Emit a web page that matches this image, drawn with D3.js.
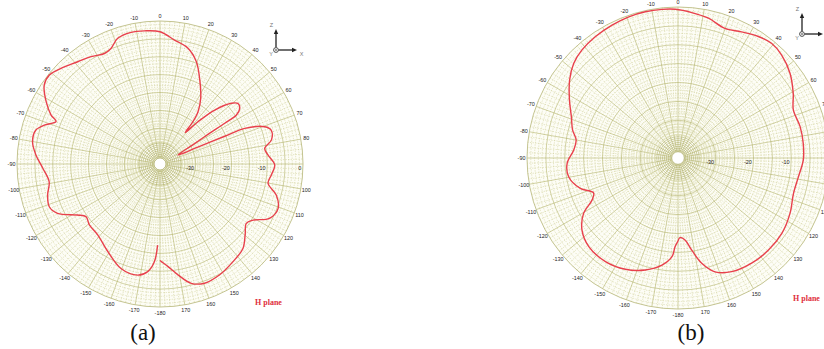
<!DOCTYPE html>
<html>
<head>
<meta charset="utf-8">
<script src="https://cdn.jsdelivr.net/npm/d3@7"></script>
<style>
  html, body { margin: 0; padding: 0; background: #fff; }
  svg { display: block; }
</style>
</head>
<body>
<svg id="chart" width="824" height="349"></svg>
<script>
// H-plane radiation patterns: angle in degrees (0 = +Z, clockwise), normalised gain in dB
const anglesA = [-178.3, -176.7, -173.5, -168.6, -159.5, -149.2, -138.7, -130.8, -125.4, -121.8,
  -115.7, -111.1, -105.4, -99.1, -92.1, -85.8, -80.1, -74.7, -71.4, -67.8,
  -65.8, -61.3, -55.7, -51.2, -46.0, -38.8, -32.7, -26.7, -23.0, -18.6,
  -12.4, -6.7, 0, 6.7, 13.6, 19.5, 24.8, 31.8, 36.0, 37.9,
  38.8, 41.9, 45.4, 49.6, 52.1, 55.1, 57.3, 57.8, 58.3, 59.7,
  63.4, 65.9, 66.8, 67.2, 70.4, 73.0, 77.8, 81.5, 85.2, 90.5,
  95.6, 100.1, 105.0, 110.6, 116.4, 121.1, 124.5, 129.8, 135.5, 143.2,
  151.7, 159.5, 165.3, 170.8, 175.5, 179.2, 180];
const gainA = [-17.3, -12.6, -9.7, -8.3, -8.8, -11.5, -13.6, -13.9, -14.6, -12.9,
  -8.2, -6.8, -7.4, -8.6, -7.2, -5.2, -3.8, -4.0, -5.9, -8.6,
  -6.6, -3.7, -0.8, -0.3, -1.5, -3.3, -4.3, -5.4, -4.9, -2.9,
  -2.3, -2.5, -3.0, -5.1, -6.7, -9.6, -13.6, -18.4, -21.9, -25.0,
  -28.7, -24.1, -18.5, -13.8, -12.4, -12.8, -14.6, -18.6, -24.0, -29.5,
  -34.4, -28.4, -20.3, -14.3, -8.9, -7.5, -8.1, -10.4, -9.7, -7.9,
  -8.7, -9.3, -6.3, -4.7, -5.8, -9.6, -10.7, -9.0, -6.9, -5.9,
  -4.8, -4.4, -5.5, -8.6, -11.2, -12.7, -13.0];

const anglesB = [-180, -178.1, -176.5, -171.5, -163.7, -154.7, -145.0, -134.8, -126.9, -120.4,
  -116.0, -112.4, -107.3, -99.7, -92.8, -85.6, -80.0, -75.1, -68.8, -61.9,
  -54.2, -47.8, -41.6, -34.3, -26.4, -19.2, -12.6, -6.1, -1.0, 5.4,
  12.3, 19.9, 26.7, 33.5, 39.2, 45.2, 52.9, 60.7, 67.4, 75.6,
  83.3, 90.9, 98.8, 107.0, 116.3, 126.0, 135.5, 145.0, 154.7, 162.0,
  167.3, 171.6, 175.1, 178.6, 180];
const gainB = [-18.0, -16.5, -13.8, -11.3, -9.1, -7.4, -6.5, -6.7, -8.2, -11.0,
  -14.7, -15.8, -12.9, -10.6, -10.6, -12.3, -12.6, -11.1, -9.7, -7.4,
  -4.6, -2.7, -1.7, -1.1, -0.7, -0.4, -0.3, -0.4, -0.6, -1.3,
  -2.1, -3.5, -2.6, -1.4, -0.8, -1.3, -2.8, -5.0, -6.9, -6.6,
  -6.6, -6.8, -7.7, -8.0, -6.9, -6.0, -5.8, -6.0, -6.7, -8.3,
  -11.4, -15.4, -18.2, -18.9, -18.0];

// Axis labels
const angleTicks = [0, 10, 20, 30, 40, 50, 60, 70, 80, 100, 110, 120, 130, 140, 150, 160, 170,
  -10, -20, -30, -40, -50, -60, -70, -80, -90, -100, -110, -120, -130, -140, -150, -160, -170, -180];
const ringTicks = [-30, -20, -10, 0];
const dbDomain = [-40, 0];

const svg = d3.select("#chart");
const gridMajor = "#b2b268", gridMinor = "#caca8e", gridCore = "#8f8f2e";
const traceColor = "#e8404c";
const labelFont = "Liberation Sans, Arial, sans-serif";

function drawPolar(cx, cy, R, angles, gains, closed) {
  const g = svg.append("g").attr("transform", `translate(${cx},${cy})`);
  const r = d3.scaleLinear().domain(dbDomain).range([0, R]);
  const hole = R * 0.042;
  const rad = d => d * Math.PI / 180;

  g.append("circle").attr("r", R).attr("fill", "#fdfdf6");

  // constant-gain rings
  d3.range(-34, 0, 1).forEach(v => {
    g.append("circle").attr("r", r(v)).attr("fill", "none")
      .attr("stroke", v % 5 === 0 ? gridMajor : gridMinor)
      .attr("stroke-width", v % 5 === 0 ? 0.6 : 0.5)
      .attr("stroke-dasharray", v % 5 === 0 ? null : "1.4,1.2");
  });
  // dense rings around the origin
  d3.range(hole + 1.6, r(-34), 1.9).forEach(rr => {
    g.append("circle").attr("r", rr).attr("fill", "none")
      .attr("stroke", gridCore).attr("stroke-width", 0.55).attr("stroke-opacity", 0.8);
  });

  // angular grid
  d3.range(0, 360, 2).forEach(a => {
    const major = a % 10 === 0;
    const r0 = major ? hole : r(-34);
    g.append("line")
      .attr("x1", r0 * Math.sin(rad(a))).attr("y1", -r0 * Math.cos(rad(a)))
      .attr("x2", R * Math.sin(rad(a))).attr("y2", -R * Math.cos(rad(a)))
      .attr("stroke", major ? gridMajor : gridMinor)
      .attr("stroke-width", major ? 0.6 : 0.5)
      .attr("stroke-dasharray", major ? null : "1.4,1.2");
  });

  g.append("circle").attr("r", R).attr("fill", "none").attr("stroke", "#c4c490").attr("stroke-width", 1);
  g.append("circle").attr("r", hole).attr("fill", "#fff").attr("stroke", gridCore).attr("stroke-width", 0.6);

  // angle labels
  g.selectAll("text.ang").data(angleTicks).join("text")
    .attr("class", "ang")
    .attr("x", d => (R + 5.5) * Math.sin(rad(d)))
    .attr("y", d => -(R + 5.5) * Math.cos(rad(d)))
    .attr("text-anchor", "middle").attr("dominant-baseline", "central")
    .attr("font-family", labelFont).attr("font-size", 5.4)
    .attr("fill", "#222")
    .text(d => d);

  // gain labels along the 90° spoke
  g.selectAll("text.db").data(ringTicks).join("text")
    .attr("class", "db")
    .attr("x", d => r(d) - 1.8).attr("y", 5.6)
    .attr("text-anchor", "end")
    .attr("font-family", labelFont).attr("font-size", 5.4)
    .attr("fill", "#222")
    .text(d => d);

  // measured pattern
  const pts = angles.map((a, i) => [rad(a), r(gains[i])]);
  const line = d3.lineRadial().curve(d3.curveCatmullRom.alpha(0.5));
  g.append("path").attr("d", line(closed ? pts.concat([pts[0]]) : pts))
    .attr("fill", "none").attr("stroke", traceColor).attr("stroke-width", 1.4)
    .attr("stroke-linejoin", "round");
}

function drawAxesIcon(ox, oy, showX) {
  const g = svg.append("g").attr("transform", `translate(${ox},${oy})`);
  const ink = "#222";
  g.append("line").attr("x1", 0).attr("y1", -2.5).attr("x2", 0).attr("y2", -17).attr("stroke", ink).attr("stroke-width", 1.3);
  g.append("path").attr("d", "M0,-21 L-2.2,-16 L2.2,-16 Z").attr("fill", ink);
  g.append("line").attr("x1", 2.5).attr("y1", 0).attr("x2", 17).attr("y2", 0).attr("stroke", ink).attr("stroke-width", 1.3);
  g.append("path").attr("d", "M21,0 L16,-2.2 L16,2.2 Z").attr("fill", ink);
  g.append("circle").attr("r", 2.4).attr("fill", "#fff").attr("stroke", ink).attr("stroke-width", 0.8);
  g.append("circle").attr("r", 0.8).attr("fill", ink);
  const lab = (x, y, t) => g.append("text").attr("x", x).attr("y", y)
    .attr("font-family", labelFont).attr("font-size", 5.5)
    .attr("fill", "#777").attr("text-anchor", "middle").text(t);
  lab(-4.5, -23, "Z");
  lab(-5, 5.5, "Y");
  if (showX) lab(25.5, 5.5, "X");
}

drawPolar(160, 164, 143, anglesA, gainA, false);
drawPolar(678, 158, 151, anglesB, gainB, true);

drawAxesIcon(276, 50, true);
drawAxesIcon(802, 34, false);

const caption = (x, y, t) => svg.append("text").attr("x", x).attr("y", y)
  .attr("text-anchor", "middle").attr("font-family", "Liberation Serif, Times New Roman, serif")
  .attr("font-size", 23).attr("fill", "#111").text(t);
caption(143, 340, "(a)");
caption(691, 340, "(b)");

const plane = (x, y) => svg.append("text").attr("x", x).attr("y", y)
  .attr("font-family", "Liberation Serif, Times New Roman, serif").attr("font-weight", "bold")
  .attr("font-size", 8).attr("fill", "#e0303c").text("H plane");
plane(255, 305);
plane(793, 301);
</script>
</body>
</html>
